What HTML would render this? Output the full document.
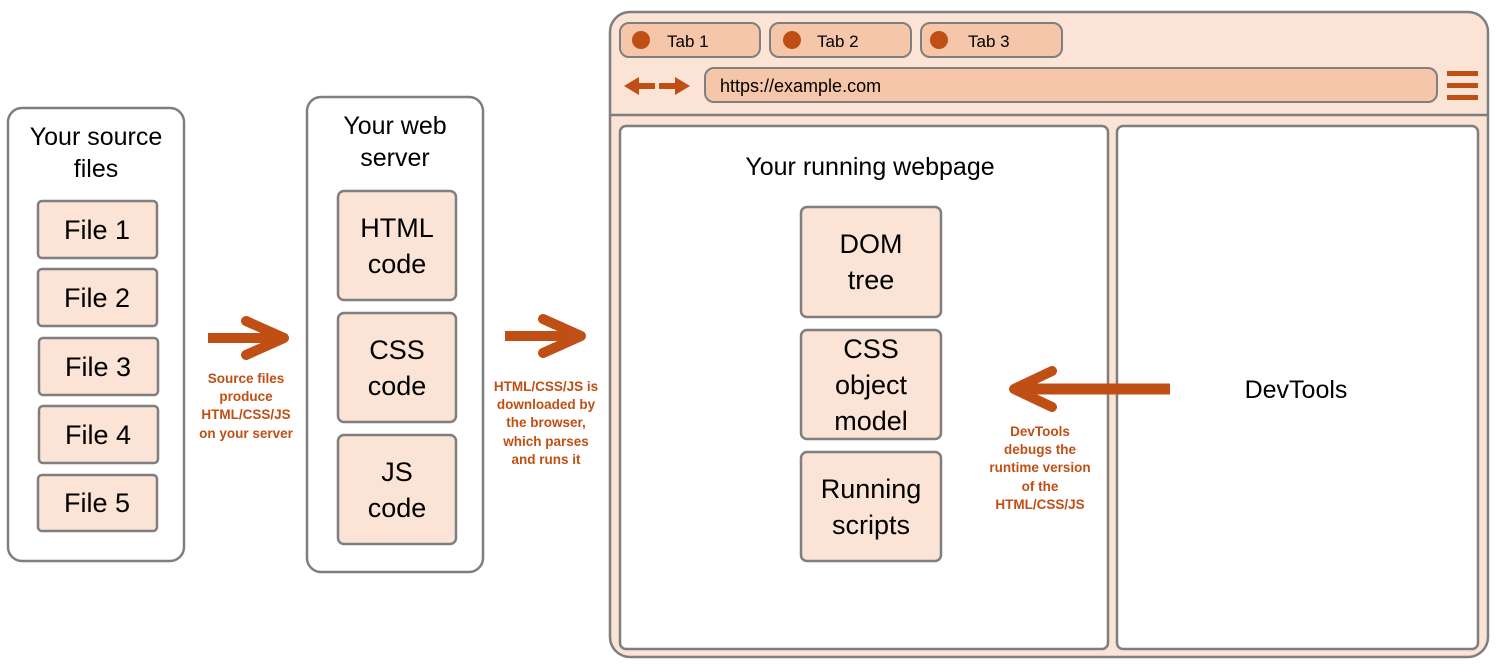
<!DOCTYPE html>
<html><head><meta charset="utf-8"><style>
html,body{margin:0;padding:0;background:#fff;width:1500px;height:669px;overflow:hidden}
svg{display:block}
text{font-family:"Liberation Sans","DejaVu Sans",sans-serif}
.t{font-size:25px;fill:#000;text-anchor:middle}
.b{font-size:27px;fill:#000;text-anchor:middle}
.l{font-size:13.5px;font-weight:bold;fill:#C04F15;text-anchor:middle}
.box{fill:#FBE3D6;stroke:#7f7f7f;stroke-width:2.5}
.out{fill:#fff;stroke:#7f7f7f;stroke-width:2.5}
.tab{fill:#F5C6A9;stroke:#7f7f7f;stroke-width:2}
.arr{stroke:#C04F15;stroke-width:10;fill:none;stroke-linecap:round;stroke-linejoin:round}
</style></head><body>
<svg width="1500" height="669" viewBox="0 0 1500 669">
<rect class="out" x="8" y="108" width="176" height="453" rx="14"/>
<text class="t" x="96" y="145">Your source</text>
<text class="t" x="96" y="177">files</text>
<rect class="box" x="38" y="201" width="119" height="57" rx="4"/><text class="b" x="97" y="239">File 1</text>
<rect class="box" x="38" y="269" width="119" height="57" rx="4"/><text class="b" x="97" y="307">File 2</text>
<rect class="box" x="39" y="338" width="119" height="57" rx="4"/><text class="b" x="98" y="376">File 3</text>
<rect class="box" x="39" y="406" width="119" height="57" rx="4"/><text class="b" x="98" y="444">File 4</text>
<rect class="box" x="38" y="475" width="119" height="56" rx="4"/><text class="b" x="97" y="512">File 5</text>
<line x1="208" y1="338" x2="282" y2="338" stroke="#C04F15" stroke-width="10"/>
<polyline class="arr" points="246,321 284,338 246,355"/>
<text class="l" x="246" y="383">Source files</text>
<text class="l" x="246" y="401">produce</text>
<text class="l" x="246" y="419">HTML/CSS/JS</text>
<text class="l" x="246" y="438">on your server</text>
<rect class="out" x="307" y="97" width="176" height="475" rx="14"/>
<text class="t" x="395" y="134">Your web</text>
<text class="t" x="395" y="166">server</text>
<rect class="box" x="338" y="191" width="118" height="109" rx="6"/><text class="b" x="397" y="237">HTML</text><text class="b" x="397" y="273">code</text>
<rect class="box" x="338" y="313" width="118" height="109" rx="6"/><text class="b" x="397" y="359">CSS</text><text class="b" x="397" y="395">code</text>
<rect class="box" x="338" y="435" width="118" height="109" rx="6"/><text class="b" x="397" y="481">JS</text><text class="b" x="397" y="517">code</text>
<line x1="505" y1="336" x2="578" y2="336" stroke="#C04F15" stroke-width="10"/>
<polyline class="arr" points="543,319 581,336 543,353"/>
<text class="l" x="546" y="391">HTML/CSS/JS is</text>
<text class="l" x="546" y="409">downloaded by</text>
<text class="l" x="546" y="427">the browser,</text>
<text class="l" x="546" y="446">which parses</text>
<text class="l" x="546" y="464">and runs it</text>
<rect x="610" y="12" width="878" height="645" rx="20" fill="#FBE3D6" stroke="#7f7f7f" stroke-width="2.5"/>
<rect class="tab" x="620" y="23" width="140" height="34" rx="9"/><circle cx="641" cy="40" r="9" fill="#C04F15"/><text x="667" y="47" font-size="17">Tab 1</text>
<rect class="tab" x="770" y="23" width="141" height="34" rx="9"/><circle cx="792" cy="40" r="9" fill="#C04F15"/><text x="817" y="47" font-size="17">Tab 2</text>
<rect class="tab" x="921" y="23" width="141" height="34" rx="9"/><circle cx="939" cy="40" r="9" fill="#C04F15"/><text x="968" y="47" font-size="17">Tab 3</text>
<polygon fill="#C04F15" points="624,86 639,77 639,83 655,83 655,89 639,89 639,95"/>
<polygon fill="#C04F15" points="690,86 675,77 675,83 659,83 659,89 675,89 675,95"/>
<rect class="tab" x="705" y="68" width="732" height="34" rx="9"/>
<text x="720" y="92" font-size="18">https://example.com</text>
<rect x="1447" y="71" width="31" height="5" fill="#C04F15"/>
<rect x="1447" y="83" width="31" height="5" fill="#C04F15"/>
<rect x="1447" y="95" width="31" height="5" fill="#C04F15"/>
<line x1="611" y1="115" x2="1487" y2="115" stroke="#7f7f7f" stroke-width="2.5"/>
<rect class="out" x="620" y="126" width="488" height="523" rx="6"/>
<rect class="out" x="1117" y="126" width="361" height="523" rx="6"/>
<text class="t" x="870" y="175">Your running webpage</text>
<rect class="box" x="801" y="207" width="140" height="110" rx="6"/><text class="b" x="871" y="253">DOM</text><text class="b" x="871" y="289">tree</text>
<rect class="box" x="801" y="330" width="140" height="109" rx="6"/><text class="b" x="871" y="358">CSS</text><text class="b" x="871" y="394">object</text><text class="b" x="871" y="430">model</text>
<rect class="box" x="801" y="452" width="140" height="109" rx="6"/><text class="b" x="871" y="498">Running</text><text class="b" x="871" y="534">scripts</text>
<text class="t" x="1296" y="398">DevTools</text>
<line x1="1170" y1="389" x2="1020" y2="389" stroke="#C04F15" stroke-width="11"/>
<polyline class="arr" points="1052,371 1014,389 1052,407"/>
<text class="l" x="1040" y="436">DevTools</text>
<text class="l" x="1040" y="454">debugs the</text>
<text class="l" x="1040" y="472">runtime version</text>
<text class="l" x="1040" y="491">of the</text>
<text class="l" x="1040" y="509">HTML/CSS/JS</text>
</svg>
</body></html>
